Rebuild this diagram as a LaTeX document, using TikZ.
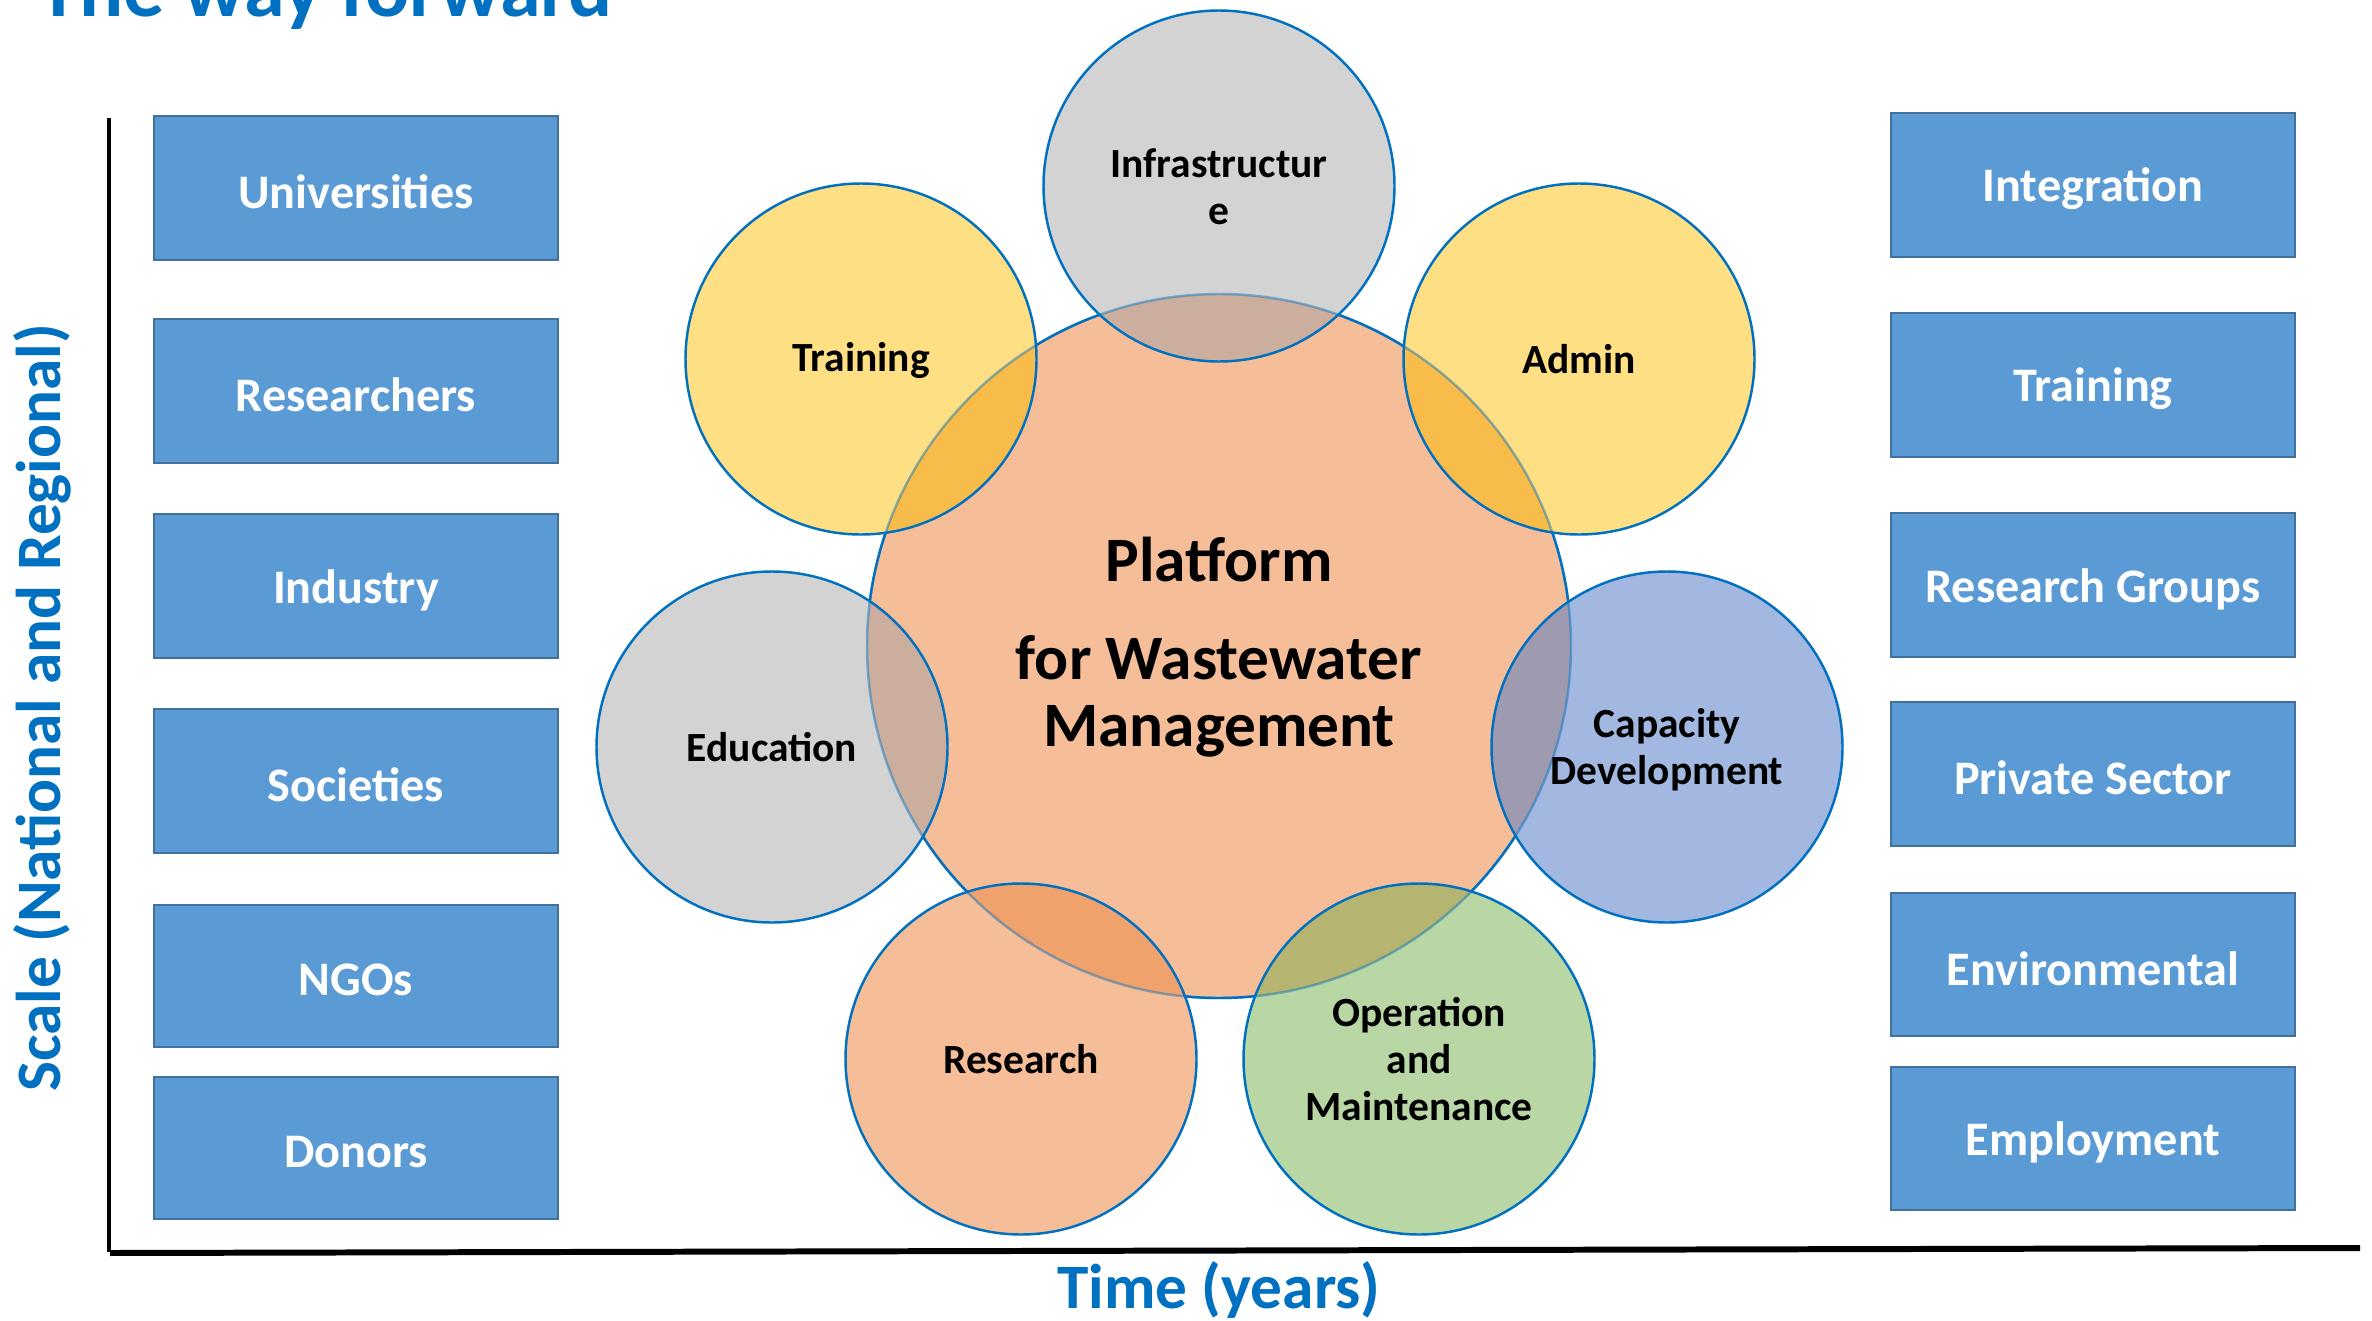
\documentclass[tikz,border=0pt]{standalone}
\usepackage{fontspec}
\setmainfont{Carlito}
\definecolor{cblue}{HTML}{0070C0}
\definecolor{boxfill}{HTML}{5B9BD5}
\definecolor{boxedge}{HTML}{41719C}
\definecolor{corange}{HTML}{F5BE98}
\definecolor{cyellow}{HTML}{FEDF84}
\definecolor{cgray}{HTML}{D3D3D3}
\definecolor{cbluec}{HTML}{A2B8E0}
\definecolor{cgreen}{HTML}{B8D7A4}
\definecolor{iyellow}{HTML}{F8BC4A}
\definecolor{igray}{HTML}{CBAE9E}
\definecolor{iblue}{HTML}{9E9AB0}
\definecolor{igreen}{HTML}{B5B470}
\definecolor{iorange}{HTML}{F0A26C}
\begin{document}
\begin{tikzpicture}[x=0.01cm,y=-0.01cm,
  clabel/.style={align=center,inner sep=0pt,font=\bfseries\fontsize{11.8}{13.4}\selectfont},
  ctext/.style={inner sep=0pt,font=\bfseries\fontsize{18}{21}\selectfont},
  axlabel/.style={inner sep=0pt,text=cblue,font=\bfseries\fontsize{18}{21}\selectfont},
  boxtext/.style={text=white,inner sep=0pt,font=\bfseries\fontsize{13.7}{16}\selectfont},
  boxshape/.style={draw=boxedge,line width=0.6pt,fill=boxfill},
  ring/.style={draw=cblue,line width=0.7pt}]
\useasboundingbox (0,0) rectangle (2372,1321);
% title
\node[anchor=base west,inner sep=0pt,text=cblue,font=\bfseries\fontsize{23.4}{28}\selectfont] (title) at (38,16) {The way forward};
% axes
\coordinate (yt) at (109,118);
\coordinate (yb) at (109,1252);
\coordinate (xl) at (110,1253);
\coordinate (xr) at (2360,1248);
\draw[line width=0.9pt] (yt) -- (yb);
\draw[line width=1.7pt] (xl) -- (xr);
\node[axlabel] (tlab) at (1219,1290) {Time (years)};
\node[axlabel,rotate=90] (slab) at (42,708) {Scale (National and Regional)};
% left boxes
\foreach \nm/\ya/\yb/\txt in {b1/116/260/Universities,b2/319/463/Researchers,b3/514/658/Industry,b4/709/853/Societies,b5/905/1047/NGOs,b6/1077/1219/Donors}{
  \draw[boxshape] (154,\ya) rectangle (558,\yb);
  \node[boxtext] (\nm) at (356,{(\ya+\yb)/2+4}) {\txt};
}
\foreach \nm/\ya/\yb/\txt in {r1/113/257/Integration,r2/313/457/Training,r3/513/657/Research Groups,r4/702/846/Private Sector,r5/893/1036/Environmental,r6/1067/1210/Employment}{
  \draw[boxshape] (1891,\ya) rectangle (2295,\yb);
  \node[boxtext] (\nm) at (2093,{(\ya+\yb)/2+4}) {\txt};
}
% circles
\def\R{175.5}
\def\RC{352}
\coordinate (cc) at (1219,646);
\fill[corange] (cc) circle[radius=\RC];
\draw[ring] (cc) circle[radius=\RC];
\foreach \p/\col/\icol in {{(1219,186)}/cgray/igray,{(861,359)}/cyellow/iyellow,{(1579,359)}/cyellow/iyellow,{(772,747)}/cgray/igray,{(1667,747)}/cbluec/iblue,{(1021,1059)}/corange/iorange,{(1419,1059)}/cgreen/igreen}{
  \fill[\col] \p circle[radius=\R];
  \begin{scope}
    \clip (cc) circle[radius=\RC];
    \fill[\icol] \p circle[radius=\R];
  \end{scope}
}
\draw[ring,draw opacity=0.45] (cc) circle[radius=\RC];
\foreach \p in {{(1219,186)},{(861,359)},{(1579,359)},{(772,747)},{(1667,747)},{(1021,1059)},{(1419,1059)}}{
  \draw[ring] \p circle[radius=\R];
}
% labels
\node[clabel] (infra) at (1219,187) {Infrastructur\\e};
\node[clabel] (train) at (861,360) {Training};
\node[clabel] (admin) at (1579,359) {Admin};
\node[clabel] (edu) at (772,747) {Education};
\node[clabel] (cap) at (1667,750) {Capacity\\Development};
\node[clabel] (res) at (1021,1059) {Research};
\node[clabel] (om) at (1419,1059) {Operation\\and\\Maintenance};
\node[ctext] (p1) at (1219,560) {Platform};
\node[ctext] (p2) at (1219,658) {for Wastewater};
\node[ctext] (p3) at (1219,731) {Management};
\end{tikzpicture}
\end{document}
